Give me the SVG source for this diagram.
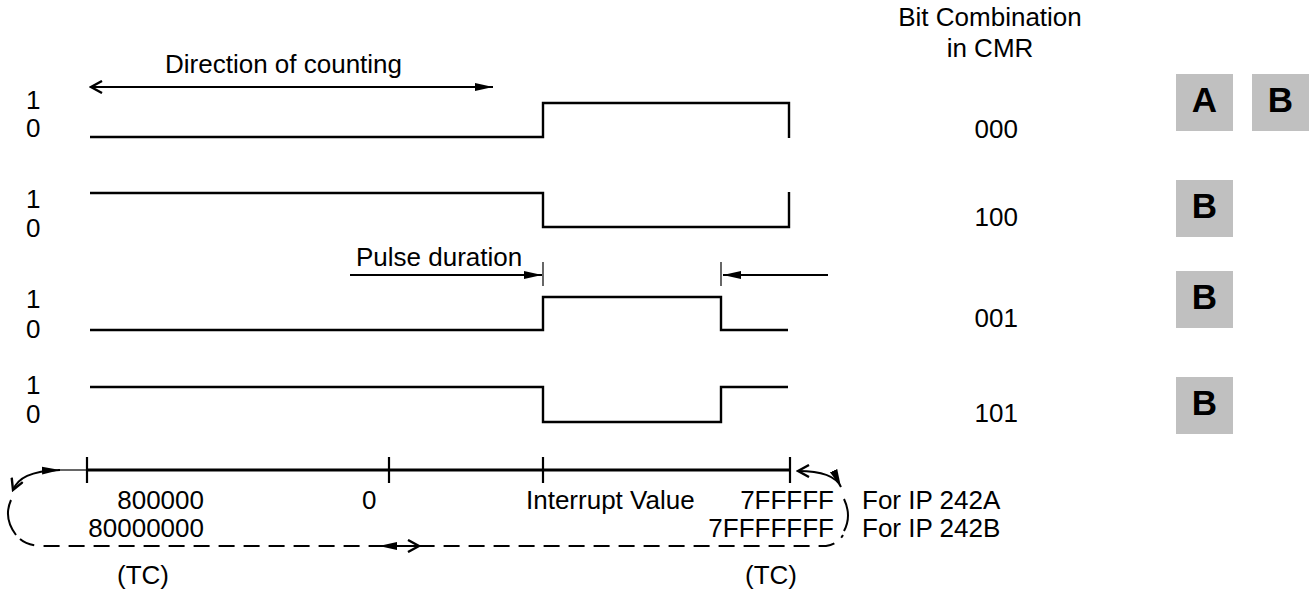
<svg xmlns="http://www.w3.org/2000/svg" width="1313" height="592" viewBox="0 0 1313 592">
<style>
text{font-family:"Liberation Sans",Arial,Helvetica,sans-serif;font-size:26px;fill:#000}
.box{fill:#c0c0c0}
.bl{font-weight:bold;font-size:35px;text-anchor:middle}
.wave{fill:none;stroke:#000;stroke-width:2.4;stroke-linejoin:miter}
.thin{fill:none;stroke:#000;stroke-width:1.2}
.ln{fill:none;stroke:#000;stroke-width:2}
.axis{fill:none;stroke:#000;stroke-width:3.2}
.tick{stroke:#000;stroke-width:2.2}
.dash{fill:none;stroke:#000;stroke-width:2;stroke-dasharray:16 9}
.mid{text-anchor:middle}
.end{text-anchor:end}
</style>
<defs>
<marker id="fa" markerUnits="userSpaceOnUse" markerWidth="20" markerHeight="10" refX="18" refY="5" orient="auto-start-reverse"><path d="M0,1 L18,5 L0,9 z" fill="#000"/></marker>
<marker id="oa" markerUnits="userSpaceOnUse" markerWidth="14" markerHeight="14" refX="12" refY="7" orient="auto-start-reverse"><path d="M1,1 L12,7 L1,13" fill="none" stroke="#000" stroke-width="2.4"/></marker>
</defs>

<g id="header">
<text x="990" y="26" class="mid">Bit Combination</text>
<text x="990" y="57" class="mid">in CMR</text>
<text x="165" y="73">Direction of counting</text>
</g>

<g id="row1">
<text x="26" y="109">1</text><text x="26" y="137">0</text>
<path class="wave" d="M90,137 H543 V103 H789 V138"/>
<text x="1018" y="138" class="end">000</text>
<rect class="box" x="1176" y="74" width="57" height="57"/><text x="1204.5" y="112" class="bl">A</text>
<rect class="box" x="1252" y="74" width="57" height="57"/><text x="1280.5" y="112" class="bl">B</text>
</g>

<g id="row2">
<text x="26" y="208">1</text><text x="26" y="237">0</text>
<path class="wave" d="M90,193 H543 V227 H789 V192"/>
<text x="1018" y="226" class="end">100</text>
<rect class="box" x="1176" y="180" width="57" height="57"/><text x="1204.5" y="218" class="bl">B</text>
</g>

<g id="row3">
<text x="26" y="308">1</text><text x="26" y="338">0</text>
<path class="wave" d="M90,330 H543 V297 H721 V330 H788"/>
<text x="1018" y="327" class="end">001</text>
<rect class="box" x="1176" y="271" width="57" height="57"/><text x="1204.5" y="309" class="bl">B</text>
</g>

<g id="row4">
<text x="26" y="394">1</text><text x="26" y="423">0</text>
<path class="wave" d="M90,387 H543 V422 H721 V387 H788"/>
<text x="1018" y="422" class="end">101</text>
<rect class="box" x="1176" y="377" width="57" height="57"/><text x="1204.5" y="415" class="bl">B</text>
</g>

<g id="pulse">
<text x="356" y="266">Pulse duration</text>
<line class="thin" x1="543" y1="262" x2="543" y2="286"/>
<line class="thin" x1="721" y1="262" x2="721" y2="286"/>
</g>

<g id="axis">
<line class="axis" x1="87" y1="470" x2="790" y2="470"/>
<line class="thin" x1="58" y1="470" x2="87" y2="470"/>
<line class="tick" x1="87" y1="457" x2="87" y2="483"/>
<line class="tick" x1="389" y1="457" x2="389" y2="483"/>
<line class="tick" x1="543" y1="457" x2="543" y2="483"/>
<line class="tick" x1="790" y1="457" x2="790" y2="483"/>
<text x="204" y="509" class="end">800000</text>
<text x="204" y="537" class="end">80000000</text>
<text x="362" y="509">0</text>
<text x="526" y="509">Interrupt Value</text>
<text x="834" y="509" class="end">7FFFFF</text>
<text x="834" y="537" class="end">7FFFFFFF</text>
<text x="862" y="509">For IP 242A</text>
<text x="862" y="537">For IP 242B</text>
<text x="117" y="584">(TC)</text>
<text x="745" y="584">(TC)</text>
</g>

<g id="connectors">
<line class="ln" x1="91" y1="87" x2="493" y2="87" marker-start="url(#oa)" marker-end="url(#fa)"/>
<line class="ln" x1="350" y1="275" x2="542" y2="275" marker-end="url(#fa)"/>
<line class="ln" x1="828" y1="275" x2="723" y2="275" marker-end="url(#fa)"/>
<path class="ln" d="M13,490 C18,478 30,471 60,470" marker-start="url(#oa)" marker-end="url(#fa)"/>
<path class="ln" d="M11,500 Q3,518 16,535"/>
<path class="dash" d="M20,539 Q28,546 44,546 L826,546 Q838,544 843,535"/>
<path class="ln" d="M798,471 C822,471 836,476 841,487" marker-start="url(#oa)" marker-end="url(#fa)"/>
<path class="ln" d="M844,499 Q852,516 844,531"/>
<line class="ln" x1="379" y1="546" x2="419" y2="546" marker-start="url(#fa)" marker-end="url(#oa)"/>
</g>
</svg>
